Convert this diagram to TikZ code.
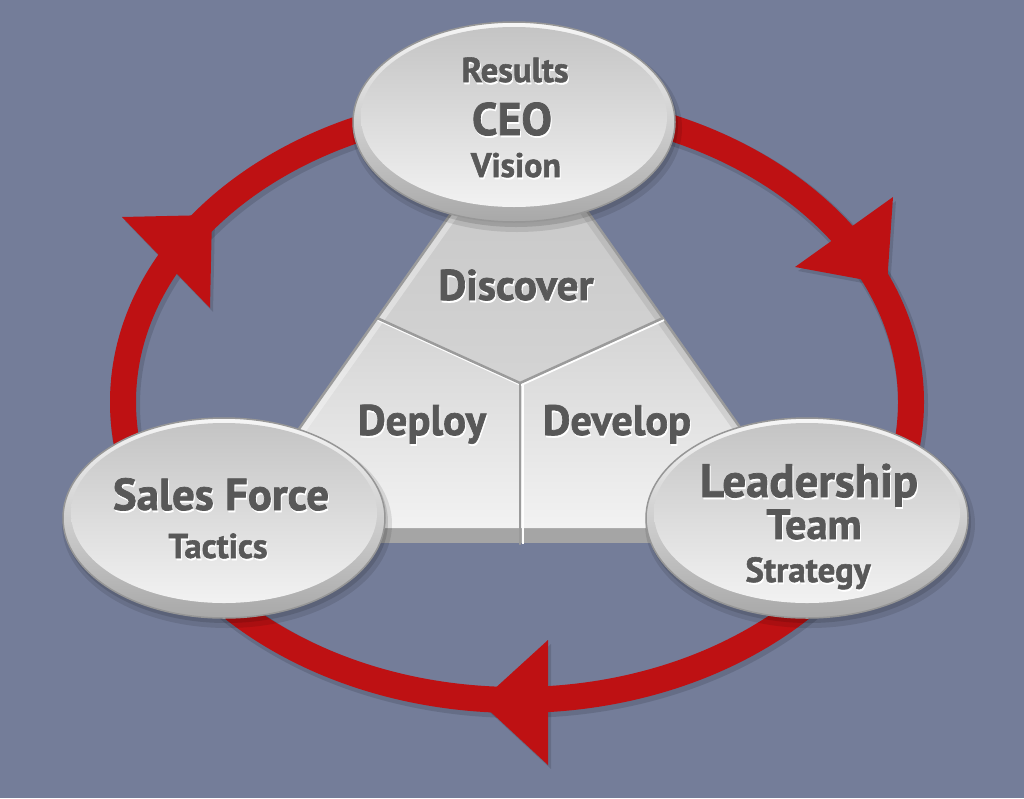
\documentclass[tikz,border=0pt]{standalone}
\usepackage{fontspec}
\setmainfont{PT Sans}[BoldFeatures={FakeBold=1.6}]
\usepackage{graphicx}
\usetikzlibrary{calc}
\definecolor{bg}{RGB}{116,125,153}
\definecolor{ringred}{RGB}{190,17,19}
\definecolor{txtgray}{RGB}{88,88,88}
\definecolor{rimtop}{RGB}{246,246,246}
\definecolor{rimbot}{RGB}{168,168,168}
\definecolor{rimline}{RGB}{150,150,150}
\definecolor{facetop}{RGB}{196,196,196}
\definecolor{facebot}{RGB}{242,242,242}
\definecolor{triline}{RGB}{155,155,155}
\definecolor{band}{RGB}{165,165,165}
\tikzset{
  lbl/.style={anchor=base, inner sep=0pt, text=txtgray, font=\bfseries},
  lblsh/.style={anchor=base, inner sep=0pt, text=white, font=\bfseries},
  ringline/.style={draw=ringred, line width=26pt},
  arrowtip/.style={fill=ringred},
  divline/.style={draw=triline, line width=2.5pt, line cap=round},
  divhl/.style={draw=white, line width=2pt},
}
\newcommand{\shlabel}[5]{%
  \node[lblsh] at (#2+1,#3+2) {\resizebox{#4pt}{!}{#5}};
  \node[lbl] (#1) at (#2,#3) {\resizebox{#4pt}{!}{#5}};
}
\newcommand{\dish}[2]{%
  \fill[black,opacity=0.10] (#1+3,#2+6) ellipse [x radius=165pt, y radius=104pt];
  \fill[black,opacity=0.12] (#1+2,#2+4) ellipse [x radius=162pt, y radius=101pt];
  \shade[top color=rimtop, bottom color=rimbot, draw=rimline, line width=1.5pt] (#1,#2) ellipse [x radius=161pt, y radius=100pt];
  \shade[top color=facetop, bottom color=facebot] (#1,#2-5) ellipse [x radius=153pt, y radius=90pt];
}
\begin{document}
\begin{tikzpicture}[x=1pt,y=-1pt]
\fill[bg] (0,0) rectangle (1024,798);
\useasboundingbox (0,0) rectangle (1024,798);

% ring shadow
\draw[black, opacity=0.12, line width=30pt] (519,405) ellipse [x radius=394pt, y radius=298pt];
\fill[black, opacity=0.12] (896,201) -- (798,271) -- (890,288) -- cycle;
\fill[black, opacity=0.12] (125,221) -- (213,312) -- (215,219) -- cycle;
\fill[black, opacity=0.12] (551,644) -- (551,769) -- (483,706) -- cycle;
% ring
\draw[ringline] (517,402) ellipse [x radius=394pt, y radius=298pt];
\fill[arrowtip] (893,197) -- (795,267) -- (887,284) -- cycle;
\fill[arrowtip] (122,217) -- (210,308) -- (212,215) -- cycle;
\fill[arrowtip] (548,640) -- (548,765) -- (480,702) -- cycle;

% triangle
\coordinate (A) at (520,116);
\coordinate (L) at (229,528);
\coordinate (R) at (811,528);
\coordinate (ML) at (377,318);
\coordinate (MR) at (663,318);
\coordinate (J) at (520,383);
\coordinate (MB) at (520,528);
\coordinate (MBb) at (520,544);
% bottom band
\fill[band] (L) -- (R) -- (811,543) -- (229,543) -- cycle;
% faces
\shade[top color=black!23, bottom color=black!17] (A) -- (MR) -- (J) -- (ML) -- cycle;
\shade[top color=black!17, bottom color=black!5] (ML) -- (J) -- (MB) -- (L) -- cycle;
\shade[top color=black!17, bottom color=black!5] (J) -- (MR) -- (R) -- (MB) -- cycle;
% bevel on edges
\begin{scope}
\clip (A) -- (L) -- (R) -- cycle;
\draw[white, opacity=0.35, line width=14pt] (A) -- (L);
\draw[black, opacity=0.08, line width=14pt] (A) -- (R);
\end{scope}
\draw[triline, line width=2.5pt, line join=round] (L) -- (A) -- (R);
% dividers
\draw[divhl] ($(ML)+(1,2)$) -- ($(J)+(1,2)$) -- ($(MR)+(1,2)$);
\draw[divhl] ($(J)+(3,0)$) -- ($(MBb)+(3,0)$);
\draw[divline] (ML) -- (J) -- (MR);
\draw[divline] (J) -- (MBb);

% dishes
\dish{514}{122}
\dish{224}{518}
\dish{807}{518}

% labels
\shlabel{results}{515}{82}{107}{Results}
\shlabel{ceo}{512}{135}{80}{CEO}
\shlabel{vision}{516}{177}{90}{Vision}
\shlabel{discover}{516}{300}{155}{Discover}
\shlabel{deploy}{422}{435}{128}{Deploy}
\shlabel{develop}{617}{435}{148}{Develop}
\shlabel{sales}{221}{510}{216}{Sales Force}
\shlabel{tactics}{218}{558}{99}{Tactics}
\shlabel{leader}{809}{497}{218}{Leadership}
\shlabel{team}{814}{539}{95}{Team}
\shlabel{strategy}{808}{582}{125}{Strategy}
\end{tikzpicture}
\end{document}
